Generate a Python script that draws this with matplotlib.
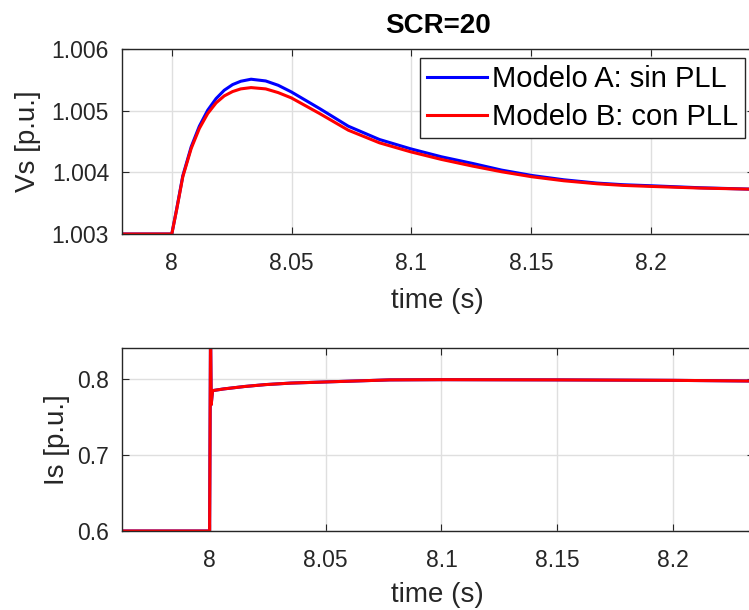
import matplotlib
matplotlib.use("Agg")
import matplotlib.pyplot as plt

plt.rcParams['font.family'] = ['Liberation Sans', 'DejaVu Sans']

# ---- data ----
t_vs = [7.979, 8.0000, 8.0020, 8.0046, 8.0081, 8.0115, 8.0150, 8.0185, 8.0219,
        8.0254, 8.0288, 8.0331, 8.0392, 8.0444, 8.0499, 8.0617, 8.0737, 8.0867,
        8.0997, 8.1126, 8.1256, 8.1377, 8.1503, 8.1636, 8.1775, 8.1887, 8.1999,
        8.2207, 8.2431]
vs_A = [1.003, 1.003, 1.003400, 1.003946, 1.004416, 1.004751, 1.005011, 1.005200,
        1.005335, 1.005427, 1.005481, 1.005514, 1.005486, 1.005416, 1.005308,
        1.005038, 1.004751, 1.004535, 1.004384, 1.004254, 1.004146, 1.004038,
        1.003951, 1.003881, 1.003827, 1.003800, 1.003784, 1.003751, 1.003727]
vs_B = [1.003, 1.003, 1.003389, 1.003930, 1.004389, 1.004714, 1.004957, 1.005130,
        1.005243, 1.005314, 1.005357, 1.005378, 1.005357, 1.005297, 1.005211,
        1.004957, 1.004686, 1.004481, 1.004335, 1.004211, 1.004103, 1.004011,
        1.003930, 1.003865, 1.003816, 1.003789, 1.003773, 1.003746, 1.003727]

t_is = [7.962, 8.0000, 8.0004, 8.0007, 8.0010, 8.0013, 8.006, 8.015, 8.024,
        8.035, 8.05, 8.0776, 8.1, 8.15, 8.2, 8.2348]
is_A = [0.6, 0.6, 0.87, 0.766, 0.776, 0.7844, 0.7866, 0.7898, 0.7923,
        0.7943, 0.7958, 0.7985, 0.7988, 0.7985, 0.7979, 0.7970]
is_B = [0.6, 0.6, 0.87, 0.766, 0.776, 0.7844, 0.7866, 0.7898, 0.7923,
        0.7943, 0.7958, 0.7985, 0.7988, 0.7985, 0.7979, 0.7970]

xticks_top = [8.0, 8.05, 8.1, 8.15, 8.2]
xticklabels = ['8', '8.05', '8.1', '8.15', '8.2']
yticks_top = [1.003, 1.004, 1.005, 1.006]
yticklabels_top = ['1.003', '1.004', '1.005', '1.006']
yticks_bot = [0.6, 0.7, 0.8]
yticklabels_bot = ['0.6', '0.7', '0.8']
labels = ['Modelo A: sin PLL', 'Modelo B: con PLL']
title = 'SCR=20'

TXT = '#262626'
GRID = '#dfdfdf'

fig = plt.figure(figsize=(7.49, 6.10), dpi=100)
W, H = 749, 610

def mk(left, right, top, bottom):
    return fig.add_axes([left / W, 1 - bottom / H, (right - left) / W, (bottom - top) / H])

ax1 = mk(121.5, 754, 49.3, 234)
ax2 = mk(121.5, 754, 348.3, 531)

def style(ax):
    for s in ax.spines.values():
        s.set_color(TXT)
        s.set_linewidth(1.0)
    ax.tick_params(direction='in', length=5, width=0.8, colors=TXT,
                   labelsize=16.5, top=True, right=True, pad=13)
    ax.tick_params(axis='y', pad=9)
    ax.grid(True, color=GRID, linewidth=1.0)
    ax.set_axisbelow(True)

ax1.plot(t_vs, vs_A, color=(0, 0, 1), lw=2.2, label=labels[0])
ax1.plot(t_vs, vs_B, color=(1, 0, 0), lw=2.2, label=labels[1])
ax1.set_xlim(7.979, 8.2431)
ax1.set_ylim(1.003, 1.006)
ax1.set_xticks(xticks_top)
ax1.set_xticklabels(xticklabels)
ax1.set_yticks(yticks_top)
ax1.set_yticklabels(yticklabels_top)
style(ax1)
ax1.set_xlabel('time (s)', fontsize=20, color=TXT, labelpad=9)
ax1.set_ylabel('Vs [p.u.]', fontsize=20, color=TXT, labelpad=8)
ax1.set_title(title, fontsize=20, fontweight='bold', color='black', pad=12)
leg = ax1.legend(loc='upper right', fontsize=21, frameon=True, fancybox=False,
                 framealpha=1, edgecolor='#262626', handlelength=2.05,
                 handletextpad=0.18, borderpad=0.25, labelspacing=0.33,
                 borderaxespad=0.3)
leg.get_frame().set_linewidth(1.0)

ax2.plot(t_is, is_A, color=(0, 0, 1), lw=2.2)
ax2.plot(t_is, is_B, color=(1, 0, 0), lw=2.2)
ax2.set_xlim(7.962, 8.2348)
ax2.set_ylim(0.6, 0.84)
ax2.set_xticks(xticks_top)
ax2.set_xticklabels(xticklabels)
ax2.set_yticks(yticks_bot)
ax2.set_yticklabels(yticklabels_bot)
style(ax2)
ax2.set_xlabel('time (s)', fontsize=20, color=TXT, labelpad=7)
ax2.set_ylabel('Is [p.u.]', fontsize=20, color=TXT, labelpad=5)

fig.savefig('out.png', dpi=100)
